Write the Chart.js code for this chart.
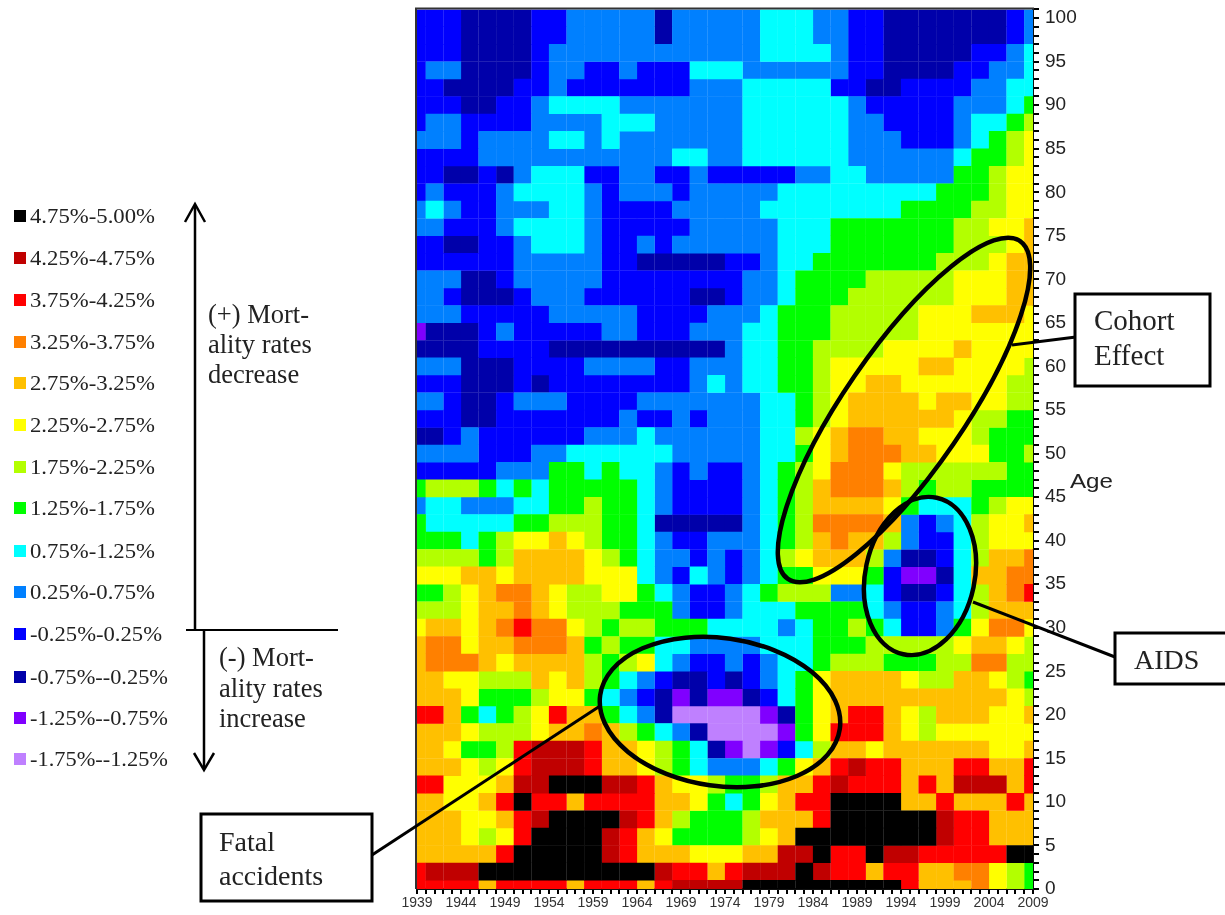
<!DOCTYPE html>
<html><head><meta charset="utf-8">
<style>html,body{margin:0;padding:0;background:#fff}#w{position:relative;width:1225px;height:915px;overflow:hidden}
canvas{position:absolute;left:0;top:-8px}svg{position:absolute;left:0;top:0}</style>
<script src="https://cdn.jsdelivr.net/npm/chart.js@4"></script></head>
<body><div id="w"><canvas id="c" width="1225" height="923"></canvas><svg id="s" width="1225" height="915" xmlns="http://www.w3.org/2000/svg"></svg></div>
<script>
const levelCodes=["X","K","E","R","O","Y","H","G","C","M","B","D","P","L"];
const levelLabels=["4.75%-5.00%","4.25%-4.75%","3.75%-4.25%","3.25%-3.75%","2.75%-3.25%","2.25%-2.75%","1.75%-2.25%","1.25%-1.75%","0.75%-1.25%","0.25%-0.75%","-0.25%-0.25%","-0.75%--0.25%","-1.25%--0.75%","-1.75%--1.25%"];
const levelColors=["#000000","#C00000","#FF0000","#FF8000","#FFC000","#FFFF00","#B3FF00","#00FF00","#00FFFF","#0080FF","#0000FF","#0000AA","#8000FF","#BF80FF"];
const years=[1939,1941,1943,1945,1947,1949,1951,1953,1955,1957,1959,1961,1963,1965,1967,1969,1971,1973,1975,1977,1979,1981,1983,1985,1987,1989,1991,1993,1995,1997,1999,2001,2003,2005,2007,2009];
const ages=[100,98,96,94,92,90,88,86,84,82,80,78,76,74,72,70,68,66,64,62,60,58,56,54,52,50,48,46,44,42,40,38,36,34,32,30,28,26,24,22,20,18,16,14,12,10,8,6,4,2,0];
const gridRows=[
"BBBDDD DBBMMM MMDMMM MMCCCM MBBDDD DDDDBM",
"BBBDDD DBBMMM MMDMMM MMCCCM MBBDDD DDDDBM",
"BBBDDD DBMMMM MMMMMM MMCCCC MBBDDD DDBBMC",
"BMMDDD DBMMBB MBBBCC CMMMMM MBBDDD DBBMMC",
"BBDDDD BBMBBB BBBBMM MCCCCC BBDDBB BBMMCC",
"BBBDDB BMCCCC MMMMMM MCCCCC CMBBBB BMMMCG",
"BMMBBB BMMMMC CCMMMM MCCCCC CMMBBB BMCCGH",
"MMMBMM MMCCMC MMMMMM MCCCCC CMMMBB BMCGHY",
"BBBBMM MMMMMM MMMCCM MCCCCC CMMMMM MCGGHY",
"BBDDBD MCCCBB MMBBMB BBBBMM CCMMMM MGGHYY",
"BMBBBM CCCCMB MMMBMM MMMCCC CCCCCC GGGHYY",
"MCMBBM MMCCMB BBBMMM MMCCCC CCCCGG GGHHYY",
"MMBBBM CCCCMB BBBBMM MMMCCC GGGGGG GHHYYO",
"BBDDBB MCCCMB BMBMMM MMMCCC GGGGGG GHHHYO",
"BBBBBB MMMMMB BDDDDD BBMCCG GGGGGG HHHYOO",
"MMMDDB MMMMMB BBBBBB BMMCGG GGHHHH HYYYOO",
"MMBDDD BMMMBB BBBBDD BMMCGG GHHHHH HYYYOO",
"MMMBBB BBMMMM MBBBBM MMCGGG HHHHHY YYOOOY",
"PDDDBM BBBBBM MBBBMM MCCGGG HHHHHY YYYYYY",
"DDDDBB BBDDDD DDDDDD MCCGGH HHHYYY YOYYYY",
"MMMDDD BBBBMM MMBBMM MCCGGH YYYYYO OYYYYH",
"BBBDDD BDBBBB BBBBMC MCCGGH YYOOYY YYYYHH",
"MMBDDB MMMBBB BMMMMM MMCCGH YOOOOY OOYYHH",
"BBBDDB BBBBBB MBBMBM MMCCGH YOOOOO OYHHGG",
"DDBMBB BBBBMM MCMMMM MMCCHY ORROOY YYHGGG",
"MMMMBB BMMCCC CCCMMM MMCCGY ORRROO YYYGGH",
"BBBBBM MMGGCG CCMBMB BMCGHY RRRYHH HHHHGG",
"GHHHGC GCGGGG GCMBBB BMCGHO RRROHG HHGGGG",
"MCCMMM CCGGHG GCMBBB BMCGHO OOOYGC CCGHYY",
"GCCCCC GGHHHG GCDDDD DMCGHR RRROMB MCHYYO",
"GGGCGH YYOYHG GCMBBM MMCGHO ROOHMB BCHYYY",
"HHHHGH OOOOYH GCMMBM BMCHYO OOHMDD BCHOOR",
"YYYOOY OOOOYY YCMBCM BMCGGY YYGBPP DCOORR",
"GGHYOR ROYHHY YGCMBB MCGHHH MMCBDD BCHORE",
"HHHYOO ROYHHH GGGMBB MCCCGG GGCMBB MCHOOO",
"YOOYOR ERRYHG HHGGGC CCCMCG GHGCBB MGYRRY",
"ORRYOO RRROGH GGCCMM MMCCCG GGHHHH HYOOYH",
"ORRROY OOOOHG HYCMBB MBMCCG HHHGGG HHRRHH",
"OOYYHH HOYOHG CMBDDB DBMCGY OOOOYH HOOYHG",
"OOOYGG GHYYGC MBDPDP PDBCGY OOOOOO OOOOYH",
"EEOGCG HYEOOG CMDLLL LLPDGY OEEOYH OOOYYO",
"OOOYHH HYOORO HGCMDL LLLPGY EEEOYH YYYYYY",
"OOYGGH EKKKEO OYHGCD PLPBCH OOYOOO OOOYYO",
"OOOYHY EKKKEO OYHGCM MMCGYO EKEEOO OEEOOE",
"EEYYYO KKXXXK KEOYYH GGHOOE KEEEOE OKKKOE",
"OOYYOE XEEOEE EEOOYG CGYOEE XXXXOO EOOOEO",
"OOOYYO EKXXXX KEOHGG GHOOOE XXXXXX KEEOOO",
"OOOYHY EXXXXK EOYGGG GHYOXX XXXXXX KEEOOO",
"OOOOOE XXXXXK EOOOYY YOOKKX EEXKKE EEEEXX",
"EKKKXX XXXXXX XXKEEO EKKKXK EEOEEO ORRYHG",
"EEEEOE EEEOEE EOEKKK KXXXXX XXXXEO OORYHG"
];
const legendY=[216,258,300,342,383,425,467,508,551,592,634,677,718,759];
const legendWidth=[125,125,125,125,125,125,125,125,125,125,132,138,138,138];

const datasets=levelCodes.map((code,i)=>{
  const data=[];
  gridRows.forEach((row,r)=>{
    const cells=row.replace(/ /g,"");
    for(let c=0;c<years.length;c++){ if(cells[c]===code) data.push({x:years[c],y:ages[r]}); }
  });
  return {label:levelLabels[i],data,backgroundColor:levelColors[i],borderWidth:0,pointStyle:"rect",pointRadius:12.6,pointHoverRadius:12.6};
});
const frame={id:"frame",afterDraw(ch){const a=ch.chartArea,x=ch.ctx;x.save();x.strokeStyle="#333";x.lineWidth=2;x.beginPath();x.moveTo(a.left-1,a.bottom);x.lineTo(a.left-1,a.top-1);x.lineTo(a.right+1,a.top-1);x.stroke();x.restore();}};
new Chart(document.getElementById("c"),{type:"scatter",data:{datasets},plugins:[frame],options:{
  responsive:false,animation:false,events:[],
  layout:{autoPadding:false,padding:{left:417,top:0,right:0,bottom:0}},
  plugins:{legend:{display:false},tooltip:{enabled:false}},
  scales:{
    x:{type:"linear",min:1939,max:2009,afterFit(s){s.height=26;},
       grid:{drawOnChartArea:false,color:"#000",lineWidth:2,tickLength:5},border:{color:"#111",width:2},
       ticks:{stepSize:1,autoSkip:false,maxRotation:0,minRotation:0,padding:1,color:"#333",font:{family:"Liberation Sans",size:14},
              callback:v=>(v-1939)%5===0?String(v):""}},
    y:{type:"linear",position:"right",min:0,max:101,afterFit(s){s.width=192;},
       grid:{drawOnChartArea:false,color:"#000",lineWidth:2,tickLength:6},border:{color:"#111",width:2},
       ticks:{stepSize:1,includeBounds:false,autoSkip:false,padding:6,color:"#222",font:{family:"Liberation Sans",size:19},
              callback:v=>(v%5===0&&v<=100)?String(v):""}}
  }}});

const NS="http://www.w3.org/2000/svg",svg=document.getElementById("s");
function el(n,a,t){const e=document.createElementNS(NS,n);for(const k in a)e.setAttribute(k,a[k]);if(t!=null)e.textContent=t;svg.appendChild(e);return e;}
const serif="Liberation Serif";
levelLabels.forEach((t,i)=>{
  el("rect",{x:14,y:legendY[i]-6,width:12,height:12,fill:levelColors[i]});
  el("text",{x:30,y:legendY[i]+7,"font-family":serif,"font-size":21,fill:"#222",textLength:legendWidth[i],lengthAdjust:"spacingAndGlyphs"},t);
});
function line(x1,y1,x2,y2,w){el("line",{x1,y1,x2,y2,stroke:"#000","stroke-width":w});}
function poly(p,w){el("polyline",{points:p,fill:"none",stroke:"#000","stroke-width":w});}
line(195,630,195,205,2.5);poly("185,222 195,204 205,222",2.5);
line(186,630,338,630,2);
line(204,630,204,768,2.5);poly("194,753 204,770 214,753",2.5);
function label(x,y,t,size){el("text",{x,y,"font-family":serif,"font-size":size,fill:"#222"},t);}
label(208,323,"(+) Mort-",26.5);label(208,353,"ality rates",26.5);label(208,383,"decrease",26.5);
label(219,666,"(-) Mort-",26.5);label(219,697,"ality rates",26.5);label(219,727,"increase",26.5);
line(1012,345,1076,337,3);line(973,602,1115,657,3);line(372,855,600,706,3);
function ell(cx,cy,rx,ry,rot){el("ellipse",{cx,cy,rx,ry,fill:"none",stroke:"#000","stroke-width":4.5,transform:`rotate(${rot} ${cx} ${cy})`});}
ell(904,410,205,60,-55.5);ell(920,576,80,54.7,-78);ell(720,712,121,74,8);
function box(x,y,w,h){el("rect",{x,y,width:w,height:h,fill:"#fff",stroke:"#000","stroke-width":3});}
box(1075,294,135,92);label(1094,330,"Cohort",29);label(1094,365,"Effect",29);
box(1115,633,125,51);label(1134,669,"AIDS",28);
box(201,814,171,87);label(219,851,"Fatal",28);label(219,885,"accidents",28);
el("text",{x:1070,y:488,"font-family":"Liberation Sans","font-size":21,fill:"#222",textLength:43,lengthAdjust:"spacingAndGlyphs"},"Age");
</script></body></html>
